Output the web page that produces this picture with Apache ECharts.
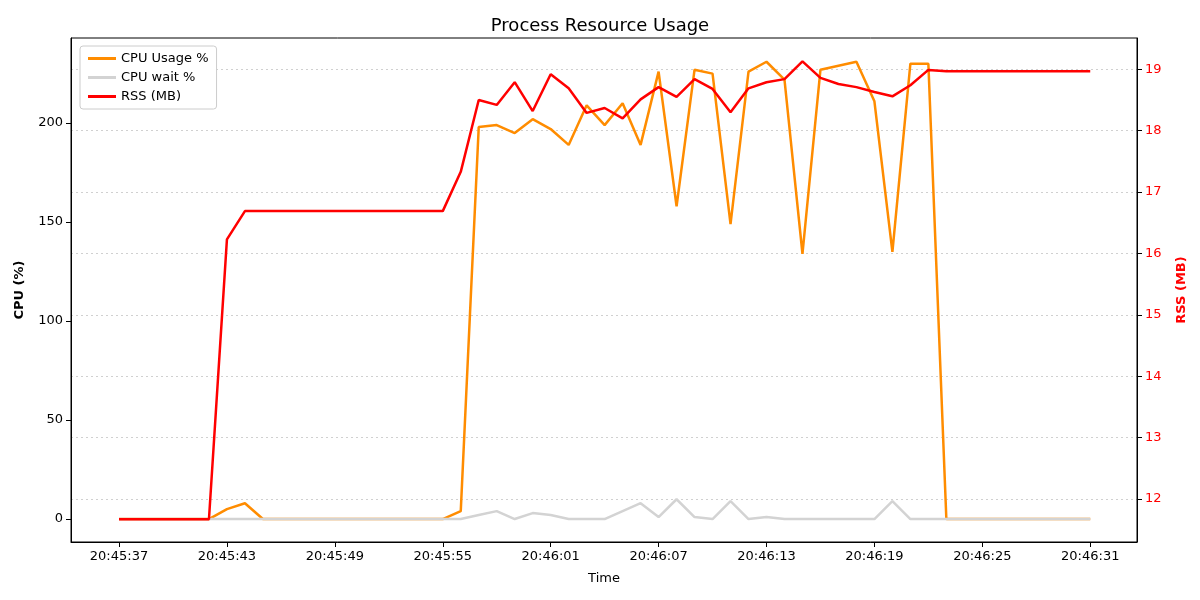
<!DOCTYPE html>
<html><head><meta charset="utf-8">
<script src="https://cdn.jsdelivr.net/npm/echarts@6/dist/echarts.min.js"></script>
<style>body{margin:0}#c{width:1200px;height:600px}</style></head>
<body><div id="c"></div>
<script>
// seconds since 20:45:37
const startSec = 20*3600 + 45*60 + 37;
const cpuUsage = [0,0,0,0,0,0,5,8,0,0,0,0,0,0,0,0,0,0,0,4,198,199,195,202,197,189,209,199,210,189,226,158,227,225,149,226,231,222,134,227,229,231,211,135,230,230,0,0,0,0,0,0,0,0,0];
const cpuWait = [0,0,0,0,0,0,0,0,0,0,0,0,0,0,0,0,0,0,0,0,2,4,0,3,2,0,0,0,4,8,1,10,1,0,9,0,1,0,0,0,0,0,0,9,0,0,0,0,0,0,0,0,0,0,0];
const rss = [11.67,11.67,11.67,11.67,11.67,11.67,16.23,16.69,16.69,16.69,16.69,16.69,16.69,16.69,16.69,16.69,16.69,16.69,16.69,17.33,18.5,18.42,18.79,18.32,18.92,18.69,18.29,18.37,18.2,18.51,18.71,18.55,18.84,18.68,18.3,18.69,18.79,18.84,19.13,18.86,18.76,18.71,18.63,18.56,18.74,18.99,18.97,18.97,18.97,18.97,18.97,18.97,18.97,18.97,18.97];
const xTicks = [0,6,12,18,24,30,36,42,48,54];
const cpuTicks = [0,50,100,150,200];
const rssTicks = [12,13,14,15,16,17,18,19];

const fmt = s => { const t = startSec + s; const p = n => String(n).padStart(2,'0');
  return p(Math.floor(t/3600)) + ':' + p(Math.floor(t/60)%60) + ':' + p(t%60); };
const pts = a => a.map((v,i) => [i, v]);
const font = 'DejaVu Sans';

const chart = echarts.init(document.getElementById('c'));
chart.setOption({
  animation: false,
  textStyle: {fontFamily: font},
  title: {text: 'Process Resource Usage', left: 'center', top: 12,
    textStyle: {fontSize: 18, fontWeight: 'normal', color: '#000', fontFamily: font}},
  grid: {left: 71, right: 63, top: 38, bottom: 58},
  legend: {left: 80, top: 46, orient: 'vertical', itemGap: 6, itemWidth: 28, itemHeight: 3,
    backgroundColor: '#fff', borderColor: '#ccc', borderWidth: 1, borderRadius: 3, padding: [6, 8],
    textStyle: {fontSize: 13, color: '#000'}, icon: 'rect',
    data: ['CPU Usage %', 'CPU wait %', 'RSS (MB)']},
  xAxis: {type: 'value', min: -2.67, max: 56.6, name: 'Time', nameLocation: 'middle', nameGap: 30,
    nameTextStyle: {fontSize: 13, color: '#000'},
    axisLine: {onZero: false, lineStyle: {color: '#000'}}, splitLine: {show: false},
    axisTick: {customValues: xTicks, lineStyle: {color: '#000'}},
    axisLabel: {customValues: xTicks, formatter: fmt, fontSize: 13, color: '#000'}},
  yAxis: [
    {type: 'value', min: -11.6, max: 243, name: 'CPU (%)', nameLocation: 'middle', nameGap: 45,
      nameTextStyle: {fontSize: 13, fontWeight: 'bold', color: '#000'},
      axisLine: {show: true, onZero: false, lineStyle: {color: '#000'}}, splitLine: {show: false},
      axisTick: {show: true, customValues: cpuTicks, lineStyle: {color: '#000'}},
      axisLabel: {customValues: cpuTicks, fontSize: 13, color: '#000'}},
    {type: 'value', min: 11.3, max: 19.51, name: 'RSS (MB)', nameLocation: 'middle', nameGap: 38,
      nameTextStyle: {fontSize: 13, fontWeight: 'bold', color: 'red'},
      axisLine: {show: true, onZero: false, lineStyle: {color: '#000'}},
      splitLine: {show: true, customValues: rssTicks, lineStyle: {type: [2, 3], color: '#d0d0d0'}},
      axisTick: {show: true, customValues: rssTicks, lineStyle: {color: '#000'}},
      axisLabel: {customValues: rssTicks, fontSize: 13, color: 'red'}}
  ],
  series: [
    {name: 'CPU Usage %', type: 'line', data: pts(cpuUsage), showSymbol: false, color: '#ff8c00', lineStyle: {width: 2.5, color: '#ff8c00'}},
    {name: 'CPU wait %', type: 'line', data: pts(cpuWait), showSymbol: false, color: '#d3d3d3', lineStyle: {width: 2.5, color: '#d3d3d3'}},
    {name: 'RSS (MB)', type: 'line', yAxisIndex: 1, data: pts(rss), showSymbol: false, color: 'red', lineStyle: {width: 2.5, color: 'red'}}
  ]
});
// frame box around plot
chart.setOption({graphic: [{type: 'rect', shape: {x: 71, y: 38, width: 1066, height: 504},
  style: {fill: 'none', stroke: '#000', lineWidth: 1}, silent: true}]});
</script></body></html>
